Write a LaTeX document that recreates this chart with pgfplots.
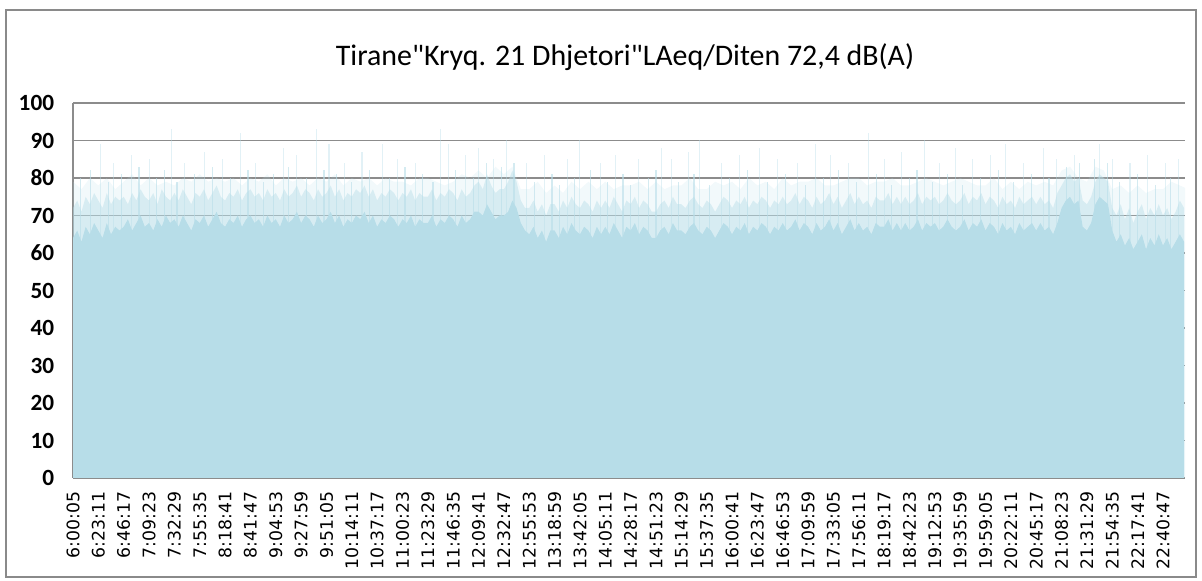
\documentclass[border=0pt]{standalone}
\usepackage{fontspec}
\usepackage{pgfplots}
\usepackage{pgfplotstable}
\pgfplotsset{compat=1.18}
\setmainfont{Carlito}[Ligatures=TeXOff]
\newfontfamily\dejavu{DejaVu Sans}
\definecolor{AreaBlue}{HTML}{B7DDE8}
\definecolor{GridGray}{HTML}{8C8C8C}
\definecolor{FrameGray}{HTML}{8A8A8A}

% LAeq samples, 6 per label step (solid body of the area)
\pgfplotstableread[row sep=\\,header=false]{
64\\66\\63\\67\\65\\68\\ 66\\64\\68\\65\\67\\66\\ 67\\69\\66\\68\\70\\67\\ 68\\66\\69\\67\\70\\68\\
69\\67\\70\\68\\66\\69\\ 68\\70\\67\\69\\71\\68\\ 67\\69\\68\\70\\67\\69\\ 70\\68\\69\\67\\70\\68\\
69\\67\\70\\68\\69\\71\\ 68\\70\\69\\67\\70\\68\\ 69\\71\\68\\70\\67\\69\\ 68\\70\\69\\71\\68\\70\\
67\\69\\68\\70\\69\\67\\ 69\\68\\70\\67\\69\\68\\ 68\\70\\67\\69\\68\\70\\ 69\\67\\70\\68\\69\\71\\
71\\70\\73\\71\\69\\70\\ 70\\71\\74\\72\\68\\66\\ 65\\67\\64\\66\\63\\66\\ 66\\64\\67\\65\\68\\66\\
65\\67\\66\\64\\67\\65\\ 67\\65\\68\\66\\64\\67\\ 66\\68\\65\\67\\66\\64\\ 64\\66\\67\\65\\68\\66\\
66\\65\\67\\68\\66\\65\\ 67\\66\\64\\66\\68\\67\\ 65\\67\\66\\68\\65\\67\\ 66\\68\\67\\65\\67\\66\\
68\\66\\67\\69\\66\\68\\ 67\\65\\68\\66\\67\\69\\ 66\\68\\65\\67\\69\\66\\ 68\\66\\67\\65\\68\\67\\
67\\69\\66\\68\\66\\68\\ 66\\67\\69\\66\\68\\67\\ 68\\66\\67\\69\\67\\66\\ 67\\69\\66\\68\\67\\69\\
66\\68\\67\\65\\68\\66\\ 67\\65\\68\\66\\67\\68\\ 66\\68\\66\\67\\65\\68\\ 72\\74\\75\\73\\74\\67\\
66\\68\\73\\75\\74\\73\\ 66\\63\\65\\62\\64\\61\\ 63\\65\\61\\64\\62\\65\\ 62\\64\\61\\63\\65\\63\\
}\solid
% upper, thinner part of the area
\pgfplotstableread[row sep=\\,header=false]{
72\\74\\71\\75\\73\\76\\ 74\\72\\76\\73\\75\\74\\ 75\\73\\76\\74\\77\\75\\ 74\\76\\73\\77\\75\\74\\
76\\74\\77\\75\\73\\76\\ 75\\77\\74\\76\\78\\75\\ 74\\76\\75\\77\\74\\76\\ 77\\75\\76\\74\\77\\75\\
76\\74\\77\\75\\76\\78\\ 75\\77\\76\\74\\77\\75\\ 76\\78\\75\\77\\74\\76\\ 75\\77\\76\\78\\75\\77\\
74\\76\\75\\77\\76\\74\\ 76\\75\\77\\74\\76\\75\\ 75\\77\\74\\76\\75\\77\\ 76\\74\\77\\75\\76\\78\\
79\\77\\81\\78\\76\\77\\ 77\\79\\82\\79\\74\\72\\ 72\\74\\71\\73\\70\\73\\ 73\\71\\74\\72\\75\\73\\
72\\74\\73\\71\\74\\72\\ 74\\72\\75\\73\\71\\74\\ 73\\75\\72\\74\\73\\71\\ 71\\73\\74\\72\\75\\73\\
73\\72\\74\\75\\73\\72\\ 74\\73\\71\\73\\75\\74\\ 72\\74\\73\\75\\72\\74\\ 73\\75\\74\\72\\74\\73\\
75\\73\\74\\76\\73\\75\\ 74\\72\\75\\73\\74\\76\\ 73\\75\\72\\74\\76\\73\\ 75\\73\\74\\72\\75\\74\\
74\\76\\73\\75\\73\\75\\ 73\\74\\76\\73\\75\\74\\ 75\\73\\74\\76\\74\\73\\ 74\\76\\73\\75\\74\\76\\
73\\75\\74\\72\\75\\73\\ 74\\72\\75\\73\\74\\75\\ 73\\75\\73\\74\\72\\76\\ 78\\80\\81\\79\\80\\74\\
73\\75\\79\\81\\80\\79\\ 72\\70\\73\\69\\72\\68\\ 71\\73\\69\\72\\70\\73\\ 70\\72\\69\\71\\74\\72\\
}\upper
% faint top envelope, 3 per label step
\pgfplotstableread[row sep=\\,header=false]{
79\\77\\80\\ 78\\80\\77\\ 79\\81\\78\\ 80\\78\\79\\ 78\\80\\79\\ 81\\79\\80\\ 79\\80\\78\\ 80\\79\\81\\
78\\80\\79\\ 80\\78\\80\\ 79\\81\\78\\ 80\\79\\80\\ 78\\80\\79\\ 79\\78\\80\\ 80\\79\\78\\ 79\\81\\80\\
82\\80\\83\\ 81\\83\\77\\ 77\\79\\76\\ 78\\76\\79\\ 77\\79\\77\\ 79\\77\\78\\ 78\\79\\77\\ 79\\77\\78\\
78\\80\\77\\ 77\\79\\78\\ 79\\77\\80\\ 78\\79\\77\\ 80\\78\\79\\ 79\\80\\78\\ 78\\79\\80\\ 80\\78\\79\\
79\\80\\78\\ 78\\79\\80\\ 79\\78\\79\\ 80\\79\\78\\ 78\\80\\77\\ 79\\77\\79\\ 78\\79\\78\\ 82\\83\\80\\
79\\83\\82\\ 77\\78\\76\\ 78\\76\\77\\ 77\\79\\78\\ 77\\
}\faint
% isolated tall peaks
\pgfplotstableread{
x y
1.1 89
1.6 84
2.3 86
3.0 85
3.9 93
4.4 84
5.2 87
5.9 85
6.6 92
7.2 84
8.3 88
8.8 86
9.6 93
10.1 89
10.7 84
11.4 87
12.2 89
12.8 85
13.5 84
14.5 93
14.8 89
15.5 86
16.0 88
16.6 85
17.1 90
17.9 84
18.6 86
19.5 85
20.0 90
20.8 84
21.4 86
22.3 85
23.2 88
23.6 85
24.3 87
24.7 90
25.6 84
26.3 86
27.1 88
27.8 85
28.6 84
29.3 89
29.9 86
30.6 84
31.4 92
32.0 85
32.7 87
33.6 90
34.2 84
34.8 88
35.5 85
36.2 86
36.8 89
37.5 84
38.3 88
38.8 85
39.5 86
40.5 89
41.0 85
41.7 84
42.4 86
43.1 84
43.6 85
}\peaks
% shorter peaks in the 76-84 band
\pgfplotstableread{
x y
0.3 80
0.7 82
1.4 79
1.9 81
2.6 83
3.3 80
3.6 82
4.1 79
4.8 81
5.5 83
6.2 80
6.9 82
7.5 79
7.9 81
8.5 83
9.2 80
9.9 82
10.4 81
11.0 79
11.7 82
12.5 80
13.1 83
13.8 81
14.2 79
15.1 82
15.8 80
16.3 84
16.9 83
17.4 84
18.2 79
18.9 81
19.2 78
19.8 80
20.4 82
21.1 79
21.7 81
22.0 78
22.7 80
23.0 82
23.9 79
24.5 81
25.1 78
25.9 80
26.6 82
27.4 79
28.1 81
28.9 78
29.6 80
30.2 82
30.9 79
31.7 81
32.3 78
33.0 80
33.3 82
33.9 79
34.5 81
35.1 78
35.8 80
36.5 82
37.1 79
37.8 81
38.5 80
39.2 83
39.7 84
40.3 85
40.8 84
41.3 79
42.0 81
42.7 78
43.3 80
}\shortpeaks

\begin{document}
\begin{tikzpicture}[x=1bp,y=1bp]
\path[use as bounding box] (0,0) rectangle (901.5,435.75);
\draw[FrameGray,line width=1.2bp] (4.5,3) rectangle (897,428.25);
\node[font=\fontsize{22.5}{26}\selectfont] at (468.75,393) {Tirane"Kryq. 21 Dhjetori"LAeq/Diten 72,4 dB(A)};
\begin{axis}[
  at={(54.75bp,77.25bp)},anchor=south west,
  scale only axis,width=834bp,height=281.25bp,
  xmin=0,xmax=43.87,ymin=0,ymax=100,
  axis x line*=bottom,axis y line*=left,
  axis line style={GridGray,line width=1.2bp,-},
  ytick={0,10,...,100},
  ymajorgrids=true,grid style={GridGray,line width=1.1bp},
  major tick length=0pt,
  /pgf/number format/assume math mode=true,
  yticklabel style={font=\bfseries\fontsize{17.5}{17.5}\selectfont,inner sep=0pt},
  yticklabel shift=14bp,
  xtick={0,...,43},
  xticklabels={6:00:05,6:23:11,6:46:17,7:09:23,7:32:29,7:55:35,8:18:41,8:41:47,9:04:53,9:27:59,9:51:05,10:14:11,10:37:17,11:00:23,11:23:29,11:46:35,12:09:41,12:32:47,12:55:53,13:18:59,13:42:05,14:05:11,14:28:17,14:51:23,15:14:29,15:37:35,16:00:41,16:23:47,16:46:53,17:09:59,17:33:05,17:56:11,18:19:17,18:42:23,19:12:53,19:35:59,19:59:05,20:22:11,20:45:17,21:08:23,21:31:29,21:54:35,22:17:41,22:40:47},
  xticklabel style={font=\dejavu\fontsize{13}{13}\selectfont,rotate=90,anchor=east,inner sep=0pt},
  xticklabel shift=10bp,
  clip=true,
]
\addplot[draw=none,fill=AreaBlue,fill opacity=0.18,no markers] table[x expr=\coordindex/3,y index=0] {\faint} \closedcycle;
\addplot[draw=none,fill=AreaBlue,fill opacity=0.45,no markers] table[x expr=\coordindex/6,y index=0] {\upper} \closedcycle;
\addplot[draw=none,fill=AreaBlue,no markers] table[x expr=\coordindex/6,y index=0] {\solid} \closedcycle;
\addplot[ycomb,AreaBlue,draw opacity=0.4,line width=0.8bp,no markers] table[x=x,y=y] {\peaks};
\addplot[ycomb,AreaBlue,draw opacity=0.6,line width=0.9bp,no markers] table[x=x,y=y] {\shortpeaks};
\end{axis}
\end{tikzpicture}
\end{document}
